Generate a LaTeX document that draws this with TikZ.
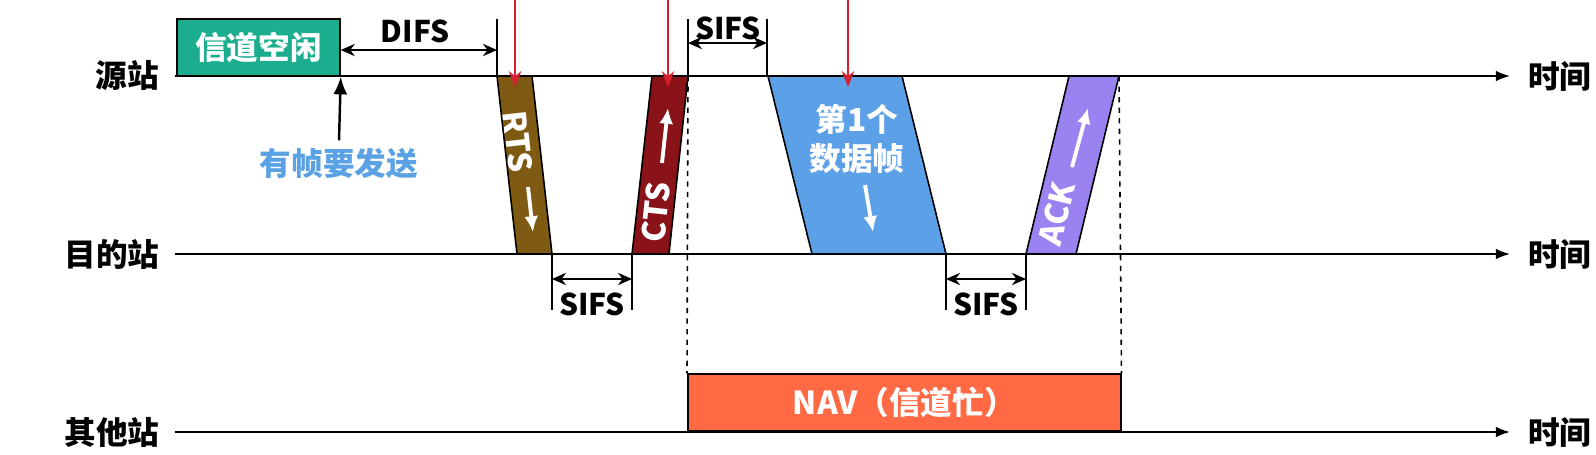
\documentclass[tikz,border=0pt]{standalone}
\usepackage{fontspec}
\setmainfont{Noto Sans CJK SC}
\usepackage{tikz}
\usetikzlibrary{arrows, arrows.meta}
\usetikzlibrary{positioning}
\usepackage{xcolor}

\definecolor{idlegreen}{HTML}{1BAE8E}
\definecolor{rtsbrown}{HTML}{7F5A12}
\definecolor{ctsred}{HTML}{8A1219}
\definecolor{datablue}{HTML}{5CA0E8}
\definecolor{ackpurple}{HTML}{9A83F0}
\definecolor{navorange}{HTML}{FF6A45}
\definecolor{hintblue}{HTML}{5AA2E4}
\definecolor{markred}{HTML}{D6202E}

\begin{document}
\begin{tikzpicture}[x=0.02cm, y=-0.02cm,
  lbl/.style={font=\fontsize{18}{20}\selectfont\bfseries},
  ifs/.style={font=\fontsize{17}{19}\selectfont\bfseries},
  wtxt/.style={text=white, font=\fontsize{18}{20}\selectfont\bfseries},
  frame/.style={draw=black, line width=0.9pt},
  axis/.style={-{Latex[length=8pt,width=6pt]}, line width=1pt},
  gap/.style={{Stealth[length=8pt,width=7pt]}-{Stealth[length=8pt,width=7pt]}, line width=1pt},
  tick/.style={line width=0.9pt},
  hit/.style={-{Stealth[length=9pt,width=7pt]}, markred, line width=1.3pt},
  wdir/.style={-{Latex[length=9pt,width=8pt]}, white, line width=2.2pt}]
\useasboundingbox (0,0) rectangle (1596,454);

%stations and time axes
\node[lbl] (src) at (127,76) {源站};
\node[lbl] (dst) at (112,254) {目的站};
\node[lbl] (oth) at (112,432) {其他站};

\coordinate (s0) at (175,76);   \coordinate (s1) at (1510,76);
\coordinate (d0) at (175,254);  \coordinate (d1) at (1510,254);
\coordinate (o0) at (175,432);  \coordinate (o1) at (1510,432);
\draw[axis] (s0) -- (s1);
\draw[axis] (d0) -- (d1);
\draw[axis] (o0) -- (o1);
\node[lbl, right] (ts) at (1522,76) {时间};
\node[lbl, right] (td) at (1522,254) {时间};
\node[lbl, right] (to) at (1522,432) {时间};

%channel idle
\node[frame, fill=idlegreen, minimum width=3.26cm, minimum height=1.14cm, wtxt] (idle) at (258.5,47.5) {信道空闲};
\node[font=\fontsize{18}{20}\selectfont\bfseries, text=hintblue] (send) at (339,164) {有帧要发送};
\draw[-{Latex[length=10pt,width=8pt]}, line width=1.4pt] (send.north) ++(0,-2) -- (idle.south east);

%frames
\filldraw[frame, fill=rtsbrown] (497,76) -- (532,76) -- (552,254) -- (517,254) -- cycle;
\filldraw[frame, fill=ctsred] (652,76) -- (688,76) -- (669,254) -- (632,254) -- cycle;
\filldraw[frame, fill=datablue] (768,76) -- (902,76) -- (946,254) -- (812,254) -- cycle;
\filldraw[frame, fill=ackpurple] (1069,76) -- (1119,76) -- (1076,254) -- (1026,254) -- cycle;
\node[frame, fill=navorange, minimum width=8.66cm, minimum height=1.14cm, wtxt, anchor=south west] (nav) at (687,432) {NAV（信道忙）};

%frame labels
\node[wtxt, inner sep=0pt, rotate=-83.6] (rts) at (518,142) {RTS};
\draw[wdir] (528,187) -- (533,232);
\node[wtxt, inner sep=0pt, rotate=83.7] (cts) at (656,212) {CTS};
\draw[wdir] (662,163) -- (668,108);
\node[wtxt, align=center, font=\fontsize{18}{22}\selectfont\bfseries] (data) at (857,139) {第1个\\数据帧};
\draw[wdir] (865,185) -- (873,232);
\node[wtxt, inner sep=0pt, rotate=76.3] (ack) at (1057,214) {ACK};
\draw[wdir] (1072,167) -- (1088,108);

%dashed NAV bounds
\draw[dashed, line width=0.9pt] (688,76) -- (nav.north west);
\draw[dashed, line width=0.9pt] (1119,76) -- (nav.north east);

%interframe spaces
\draw[tick] (497,19) -- (497,76);
\draw[tick] (688,19) -- (688,76);
\draw[tick] (767,19) -- (767,76);
\draw[gap] (idle.east |- 0,50) -- (497,50);
\node[ifs] (difs) at (415,31) {DIFS};
\draw[gap] (688,43) -- (767,43);
\node[ifs] (sifs1) at (728,28) {SIFS};

\draw[tick] (552,254) -- (552,310);
\draw[tick] (632,254) -- (632,310);
\draw[gap] (552,279) -- (632,279);
\node[ifs] (sifs2) at (592,304) {SIFS};
\draw[tick] (946,254) -- (946,310);
\draw[tick] (1026,254) -- (1026,310);
\draw[gap] (946,279) -- (1026,279);
\node[ifs] (sifs3) at (986,304) {SIFS};

%red pointers
\draw[hit] (515,0) -- (515,87);
\draw[hit] (668,0) -- (668,87);
\draw[hit] (848,0) -- (848,87);

\end{tikzpicture}
\end{document}
